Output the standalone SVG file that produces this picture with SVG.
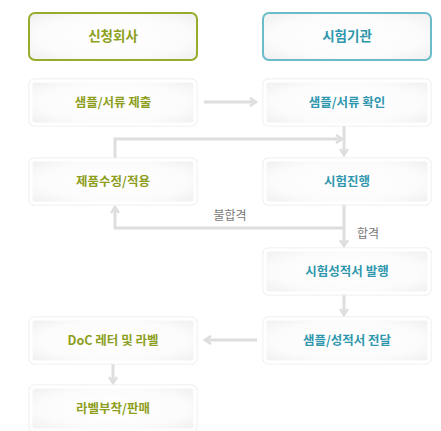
<svg xmlns="http://www.w3.org/2000/svg" width="441" height="431" viewBox="0 0 441 431">
<defs>
<radialGradient id="g" cx="50%" cy="50%" r="70%">
<stop offset="0" stop-color="#ffffff"/>
<stop offset="0.65" stop-color="#fbfbfb"/>
<stop offset="1" stop-color="#efefef"/>
</radialGradient>
<marker id="ah" viewBox="0 0 10 10" refX="8" refY="5" markerWidth="10" markerHeight="10" markerUnits="userSpaceOnUse" orient="auto">
<path d="M2,1 L8,5 L2,9" fill="none" stroke="#dedede" stroke-width="2.6"/>
</marker>
</defs>
<style>
.box{fill:url(#g);stroke:#ffffff;stroke-width:3}
.sh{fill:none;stroke:#ebebeb;stroke-width:1}
.t{font-family:"Noto Sans CJK KR","Noto Sans",sans-serif;font-size:12.5px;font-weight:bold;text-anchor:middle}
.h{font-size:13.5px}
.ol{fill:#8d9e1d}
.tl{fill:#2f97ad}
.c{fill:none;stroke:#dedede;stroke-width:3}
.lb{font-family:"Noto Sans CJK KR","Noto Sans",sans-serif;font-size:12px;fill:#777777;text-anchor:middle}
</style>
<rect width="441" height="431" fill="#ffffff"/>
<g id="connectors">
<path class="c" d="M204,102 H256" marker-end="url(#ah)"/>
<path class="c" d="M115,158 V139 H342" marker-end="url(#ah)"/>
<path class="c" d="M344,126 V155" marker-end="url(#ah)"/>
<path class="c" d="M344,204 V228 H115 V207" marker-end="url(#ah)"/>
<path class="c" d="M344,228 V246" marker-end="url(#ah)"/>
<path class="c" d="M344,294 V315" marker-end="url(#ah)"/>
<path class="c" d="M257,340 H205" marker-end="url(#ah)"/>
<path class="c" d="M113,364 V383" marker-end="url(#ah)"/>
</g>
<text class="lb" x="230" y="220">불합격</text>
<text class="lb" x="368" y="238">합격</text>
<g id="n1">
<rect x="29" y="13" width="168" height="47" rx="6" fill="url(#g)" stroke="#9aab2c" stroke-width="2"/>
<text class="t h ol" x="113" y="41">신청회사</text>
</g>
<g id="n2">
<rect x="263" y="13" width="168" height="47" rx="6" fill="url(#g)" stroke="#6bbcca" stroke-width="2"/>
<text class="t h tl" x="347" y="41">시험기관</text>
</g>
<g id="n3">
<rect class="sh" x="29" y="79" width="168" height="47" rx="5"/>
<rect class="box" x="31" y="81" width="164" height="43" rx="4"/>
<text class="t ol" x="113" y="107">샘플/서류 제출</text>
</g>
<g id="n4">
<rect class="sh" x="263" y="79" width="168" height="47" rx="5"/>
<rect class="box" x="265" y="81" width="164" height="43" rx="4"/>
<text class="t tl" x="347" y="107">샘플/서류 확인</text>
</g>
<g id="n5">
<rect class="sh" x="29" y="158" width="168" height="47" rx="5"/>
<rect class="box" x="31" y="160" width="164" height="43" rx="4"/>
<text class="t ol" x="113" y="186">제품수정/적용</text>
</g>
<g id="n6">
<rect class="sh" x="263" y="158" width="168" height="47" rx="5"/>
<rect class="box" x="265" y="160" width="164" height="43" rx="4"/>
<text class="t tl" x="347" y="186">시험진행</text>
</g>
<g id="n7">
<rect class="sh" x="263" y="248" width="168" height="47" rx="5"/>
<rect class="box" x="265" y="250" width="164" height="43" rx="4"/>
<text class="t tl" x="347" y="276">시험성적서 발행</text>
</g>
<g id="n8">
<rect class="sh" x="29" y="317" width="168" height="47" rx="5"/>
<rect class="box" x="31" y="319" width="164" height="43" rx="4"/>
<text class="t ol" x="113" y="345">DoC 레터 및 라벨</text>
</g>
<g id="n9">
<rect class="sh" x="263" y="317" width="168" height="47" rx="5"/>
<rect class="box" x="265" y="319" width="164" height="43" rx="4"/>
<text class="t tl" x="347" y="345">샘플/성적서 전달</text>
</g>
<g id="n10">
<rect class="sh" x="29" y="385" width="168" height="47" rx="5"/>
<rect class="box" x="31" y="387" width="164" height="43" rx="4"/>
<text class="t ol" x="113" y="413">라벨부착/판매</text>
</g>
</svg>
